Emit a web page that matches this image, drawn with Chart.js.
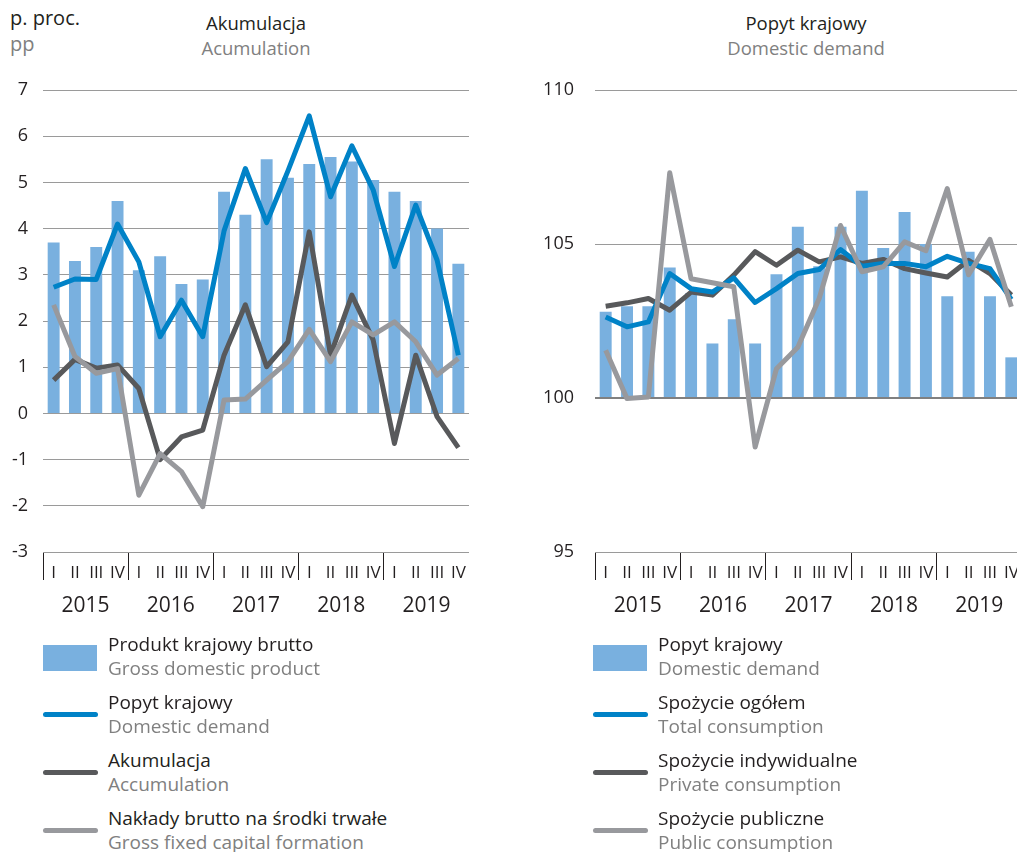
<!DOCTYPE html>
<html>
<head>
<meta charset="utf-8">
<script src="https://cdn.jsdelivr.net/npm/chart.js@4.4.1/dist/chart.umd.min.js"></script>
<style>
  html, body { margin: 0; padding: 0; background: #fff; overflow: hidden; }
  body { width: 1017px; height: 852px; position: relative; font-family: "Open Sans", sans-serif; color: #231f20; }
  .box { position: absolute; }
  .pl { color: #231f20; }
  .en { color: #808080; }
  .head { position: absolute; font-size: 20px; line-height: 26px; }
  .title { position: absolute; font-size: 18.5px; line-height: 25px; text-align: center; width: 300px; }
  .leg { position: absolute; font-size: 19px; line-height: 24px; }
  .leg .sw { position: absolute; left: 0; }
  .leg .txt { position: absolute; left: 65px; top: 0; white-space: nowrap; }
</style>
</head>
<body>

<div class="head" style="left:10px; top:5px;"><div class="pl">p. proc.</div><div class="en">pp</div></div>
<div class="title" style="left:106px; top:10px;"><div class="pl">Akumulacja</div><div class="en">Acumulation</div></div>
<div class="title" style="left:656px; top:10px;"><div class="pl">Popyt krajowy</div><div class="en">Domestic demand</div></div>

<div class="box" style="left:0; top:0; width:476px; height:632px;"><canvas id="left"></canvas></div>
<div class="box" style="left:520px; top:0; width:502px; height:632px;"><canvas id="right"></canvas></div>

<div id="legends"></div>

<script>
// quarters and years
const years = ['2015', '2016', '2017', '2018', '2019'];
const quarters = ['I', 'II', 'III', 'IV'];

// left panel, p. proc.
const gdp = [3.7, 3.3, 3.6, 4.6, 3.1, 3.4, 2.8, 2.9, 4.8, 4.3, 5.5, 5.1, 5.4, 5.55, 5.45, 5.05, 4.8, 4.6, 4.0, 3.24];
const domDemand = [2.73, 2.91, 2.9, 4.1, 3.28, 1.66, 2.45, 1.66, 3.95, 5.3, 4.13, 5.25, 6.44, 4.69, 5.79, 4.84, 3.18, 4.51, 3.32, 1.26];
const accumulation = [0.72, 1.17, 0.98, 1.05, 0.54, -1.0, -0.51, -0.36, 1.26, 2.35, 1.01, 1.55, 3.93, 1.26, 2.56, 1.59, -0.65, 1.26, -0.07, -0.74];
const gfcf = [2.35, 1.23, 0.87, 0.97, -1.77, -0.87, -1.26, -2.02, 0.29, 0.31, 0.72, 1.12, 1.82, 1.12, 1.98, 1.7, 1.98, 1.55, 0.83, 1.19];

// right panel, index
const domDemandIdx = [102.8, 102.98, 102.98, 104.24, 103.4, 101.77, 102.56, 101.77, 104.02, 105.56, 104.28, 105.56, 106.73, 104.87, 106.04, 105.0, 103.3, 104.75, 103.3, 101.32];
const totalCons = [102.63, 102.31, 102.47, 104.04, 103.55, 103.44, 103.9, 103.1, 103.55, 104.04, 104.17, 104.82, 104.28, 104.37, 104.37, 104.26, 104.6, 104.37, 104.2, 103.2];
const privateCons = [102.98, 103.09, 103.23, 102.85, 103.44, 103.34, 103.99, 104.75, 104.31, 104.8, 104.42, 104.58, 104.37, 104.5, 104.2, 104.06, 103.93, 104.47, 104.04, 103.34];
const publicCons = [101.55, 99.98, 100.03, 107.31, 103.87, 103.74, 103.61, 98.41, 100.95, 101.65, 103.23, 105.6, 104.1, 104.26, 105.07, 104.78, 106.8, 104.0, 105.15, 102.96];

const BAR = '#79b0df';
const BLUE = '#0082c7';
const DARK = '#58595b';
const GREY = '#98999d';
const TXT = '#231f20';
const FONT = '"Open Sans", sans-serif';

const labels = [];
years.forEach(() => quarters.forEach(q => labels.push(q)));

function bar(label, data, base) {
    return { type: 'bar', label: label, data: data, base: base, backgroundColor: BAR, barPercentage: 0.56, categoryPercentage: 1, order: 10, xAxisID: 'x' };
}
function line(label, data, color, order) {
    return { type: 'line', label: label, data: data, borderColor: color, borderWidth: 5, pointRadius: 0, tension: 0, fill: false, borderJoinStyle: 'round', order: order, xAxisID: 'x' };
}

function makeScales(min, max, step, yWidth, yPad, zeroVal) {
    return {
        x: {
            type: 'category', position: 'bottom', offset: true,
            grid: { offset: true, drawOnChartArea: false, tickLength: 28, lineWidth: 1,
                color: c => (c.index % 4 === 0 ? TXT : 'rgba(0,0,0,0)') },
            border: { display: false },
            ticks: { autoSkip: false, maxRotation: 0, padding: -17, color: TXT, font: { family: FONT, size: 17 } },
            afterFit: s => { s.height = 34; }
        },
        x2: {
            type: 'category', labels: years, position: 'bottom', offset: true,
            grid: { display: false, drawTicks: false },
            border: { display: false },
            ticks: { color: TXT, padding: 7, font: { family: FONT, size: 21 } },
            afterFit: s => { s.height = 46; }
        },
        y: {
            min: min, max: max,
            ticks: { stepSize: step, color: TXT, padding: yPad, font: { family: FONT, size: 18 } },
            grid: { drawTicks: false, color: c => (c.tick && c.tick.value === zeroVal ? '#808080' : '#9a9a9a'),
                lineWidth: c => (c.tick && c.tick.value === zeroVal ? 2 : 1) },
            border: { display: false },
            afterFit: s => { s.width = yWidth; }
        }
    };
}

const common = {
    responsive: true,
    maintainAspectRatio: false,
    animation: false,
    plugins: { legend: { display: false }, tooltip: { enabled: false } }
};

new Chart(document.getElementById('left'), {
    data: {
        labels: labels,
        datasets: [
            bar('Produkt krajowy brutto', gdp, 0),
            line('Popyt krajowy', domDemand, BLUE, 1),
            line('Akumulacja', accumulation, DARK, 3),
            line('Nakłady brutto na środki trwałe', gfcf, GREY, 2)
        ]
    },
    options: Object.assign({}, common, {
        layout: { padding: { top: 90, right: 7, bottom: 0, left: 0 } },
        scales: makeScales(-3, 7, 1, 43, 15, null)
    })
});

new Chart(document.getElementById('right'), {
    data: {
        labels: labels,
        datasets: [
            bar('Popyt krajowy', domDemandIdx, 100),
            line('Spożycie ogółem', totalCons, BLUE, 2),
            line('Spożycie indywidualne', privateCons, DARK, 3),
            line('Spożycie publiczne', publicCons, GREY, 1)
        ]
    },
    options: Object.assign({}, common, {
        layout: { padding: { top: 90, right: 0, bottom: 0, left: 0 } },
        scales: makeScales(95, 110, 5, 75, 21, 100)
    })
});

// legends (HTML)
const legendLeft = [
    ['box', BAR, 'Produkt krajowy brutto', 'Gross domestic product'],
    ['line', BLUE, 'Popyt krajowy', 'Domestic demand'],
    ['line', DARK, 'Akumulacja', 'Accumulation'],
    ['line', GREY, 'Nakłady brutto na środki trwałe', 'Gross fixed capital formation']
];
const legendRight = [
    ['box', BAR, 'Popyt krajowy', 'Domestic demand'],
    ['line', BLUE, 'Spożycie ogółem', 'Total consumption'],
    ['line', DARK, 'Spożycie indywidualne', 'Private consumption'],
    ['line', GREY, 'Spożycie publiczne', 'Public consumption']
];

function drawLegend(items, left) {
    const host = document.getElementById('legends');
    items.forEach((it, i) => {
        const d = document.createElement('div');
        d.className = 'leg';
        d.style.left = left + 'px';
        d.style.top = (632 + i * 58) + 'px';
        const sw = document.createElement('div');
        sw.className = 'sw';
        sw.style.background = it[1];
        if (it[0] === 'box') {
            sw.style.width = '54px'; sw.style.height = '26px'; sw.style.top = '13px';
        } else {
            sw.style.width = '55px'; sw.style.height = '5px'; sw.style.top = '22px'; sw.style.borderRadius = '3px';
        }
        d.appendChild(sw);
        const t = document.createElement('div');
        t.className = 'txt';
        t.innerHTML = '<div class="pl">' + it[2] + '</div><div class="en">' + it[3] + '</div>';
        d.appendChild(t);
        host.appendChild(d);
    });
}
drawLegend(legendLeft, 43);
drawLegend(legendRight, 593);
</script>
</body>
</html>
